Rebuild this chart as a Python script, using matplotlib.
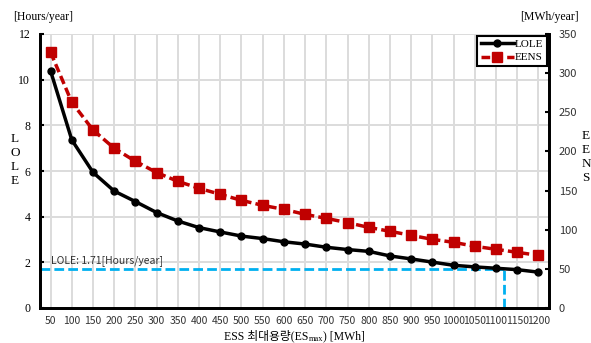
import matplotlib.pyplot as plt
import numpy as np

# data
capacity = [50, 100, 150, 200, 250, 300, 350, 400, 450, 500, 550, 600,
            650, 700, 750, 800, 850, 900, 950, 1000, 1050, 1100, 1150, 1200]
lole = [10.38, 7.36, 5.94, 5.12, 4.66, 4.18, 3.81, 3.52, 3.33, 3.15, 3.04, 2.90,
        2.80, 2.66, 2.56, 2.48, 2.28, 2.15, 2.01, 1.87, 1.80, 1.74, 1.68, 1.57]
eens = [326.6, 262.7, 227.4, 204.0, 187.4, 173.0, 161.8, 152.9, 145.2, 137.5, 131.1, 126.0,
        119.6, 114.5, 109.0, 103.0, 98.0, 92.8, 87.7, 83.9, 78.8, 75.0, 71.1, 67.3]
lole_target = 1.71
target_capacity = 1118

serif = ['Liberation Serif', 'Noto Sans CJK KR']
sans = ['Noto Sans CJK KR', 'DejaVu Sans']

x = np.arange(len(capacity))
tx = (target_capacity - capacity[0]) / 50

fig = plt.figure(figsize=(5.91, 3.43), dpi=100)
ax = fig.add_axes([40/591, 1-308/343, 509/591, 274/343])
ax2 = ax.twinx()

ax.set_xlim(-0.5, len(x)-0.5)
ax.set_ylim(0, 12)
ax2.set_ylim(0, 350)

ax.set_xticks(x)
ax.set_xticklabels([str(c) for c in capacity], family=sans, fontsize=7.5, color='#333333')
ax.set_yticks(range(0, 13, 2))
ax.set_yticklabels([str(v) for v in range(0, 13, 2)], family=serif, fontsize=8.5)
ax2.set_yticks(range(0, 351, 50))
ax2.set_yticklabels([str(v) for v in range(0, 351, 50)], family=sans, fontsize=8, color='#333333')

ax.grid(True, color='#dcdcdc', linewidth=1.4)
ax.set_axisbelow(True)
ax.tick_params(axis='x', length=0, pad=6)
ax.tick_params(axis='y', direction='in', length=3, width=1.5, pad=7)
ax2.tick_params(axis='y', direction='in', length=3, width=1.5, pad=7)
for a in (ax, ax2):
    a.spines['top'].set_visible(False)
    for s in ('left', 'bottom', 'right'):
        a.spines[s].set_linewidth(2)

# LOLE reference line
ax.plot([-0.5, tx], [lole_target, lole_target], color='#00b0f0', lw=2, ls=(0, (3.5, 1.5)), zorder=2)
ax.plot([tx, tx], [0, lole_target], color='#00b0f0', lw=2, ls=(0, (3.5, 1.5)), zorder=2)
ax.text(0.0, 1.85, 'LOLE: 1.71[Hours/year]', family=sans, fontsize=7.5, color='#333333', va='bottom')

l1, = ax2.plot(x, np.array(lole) * 350 / 12, color='black', lw=2.5, marker='o', ms=5, label='LOLE', zorder=4)
l2, = ax2.plot(x, eens, color='#c00000', lw=2.5, ls=(0, (2.5, 1.2)), marker='s', ms=7, label='EENS', zorder=3)

leg = ax2.legend(handles=[l1, l2], loc='upper right', bbox_to_anchor=(1.0, 1.0),
                 prop={'family': serif, 'size': 8}, fancybox=False, framealpha=1,
                 edgecolor='black', handlelength=3, handletextpad=0.1,
                 borderpad=0.3, labelspacing=0.3, borderaxespad=0.2)
leg.get_frame().set_linewidth(1.5)

fig.text(13/591, 1-17/343, '[Hours/year]', family=serif, fontsize=8.5, va='center')
fig.text(579/591, 1-17/343, '[MWh/year]', family=serif, fontsize=8.5, va='center', ha='right')
fig.text(15/591, 1-160/343, 'L\nO\nL\nE', family=serif, fontsize=9.5, ha='center', va='center', linespacing=1.2)
fig.text(586/591, 1-157/343, 'E\nE\nN\nS', family=serif, fontsize=9.5, ha='center', va='center', linespacing=1.2)

# x label in pieces so the Korean text keeps its font fallback
fig.canvas.draw()
r = fig.canvas.get_renderer()
parts = [('ESS 최대용량(ES', 8.5, 0), ('max', 6, -2), (') [MWh]', 8.5, 0)]
texts = []
widths = []
for s, fs, dy in parts:
    t = fig.text(0, 0, s, family=serif, fontsize=fs, va='baseline')
    texts.append(t)
    widths.append(t.get_window_extent(r).width)
x0 = (40 + 549) / 2 - sum(widths) / 2
base = 343 - 339
for t, w, (s, fs, dy) in zip(texts, widths, parts):
    t.set_position((x0 / 591, (base + dy) / 343))
    x0 += w

fig.savefig('out.png', dpi=100)
